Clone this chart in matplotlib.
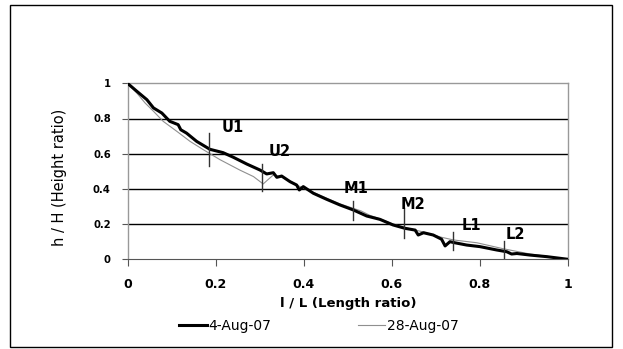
import matplotlib
matplotlib.use("Agg")
import matplotlib.pyplot as plt
from matplotlib.patches import Rectangle

plt.rcParams['font.family'] = ['DejaVu Sans']

# 4-Aug-07 (thick)
aug4_x = [0, 0.021, 0.044, 0.059, 0.078, 0.096, 0.115, 0.121, 0.134, 0.157, 0.187, 0.217,
          0.24, 0.271, 0.301, 0.316, 0.331, 0.339, 0.35, 0.369, 0.384, 0.39, 0.399, 0.422,
          0.452, 0.482, 0.513, 0.543, 0.573, 0.603, 0.63, 0.653, 0.66, 0.672, 0.694, 0.713,
          0.721, 0.732, 0.743, 0.77, 0.80, 0.838, 0.861, 0.872, 0.884, 0.914, 0.952, 1.0]
aug4_y = [1.0, 0.955, 0.907, 0.86, 0.831, 0.784, 0.765, 0.736, 0.717, 0.67, 0.625, 0.606,
          0.58, 0.541, 0.507, 0.485, 0.492, 0.466, 0.473, 0.441, 0.422, 0.394, 0.413, 0.375,
          0.341, 0.309, 0.28, 0.246, 0.227, 0.195, 0.176, 0.166, 0.138, 0.151, 0.138, 0.114,
          0.076, 0.1, 0.094, 0.081, 0.072, 0.053, 0.043, 0.03, 0.033, 0.024, 0.015, 0.0]

# 28-Aug-07 (thin)
aug28_x = [0, 0.021, 0.04, 0.059, 0.081, 0.112, 0.142, 0.172, 0.21, 0.255, 0.286, 0.308,
           0.32, 0.331, 0.35, 0.369, 0.39, 0.422, 0.482, 0.53, 0.55, 0.573, 0.603, 0.63,
           0.672, 0.713, 0.74, 0.793, 0.853, 0.914, 0.952, 1.0]
aug28_y = [1.0, 0.945, 0.888, 0.841, 0.784, 0.727, 0.67, 0.623, 0.566, 0.507, 0.47, 0.428,
           0.455, 0.479, 0.468, 0.445, 0.415, 0.38, 0.315, 0.275, 0.25, 0.23, 0.2, 0.18,
           0.155, 0.125, 0.11, 0.094, 0.06, 0.03, 0.017, 0.0]

# section markers
mark_labels = ['U1', 'U2', 'M1', 'M2', 'L1', 'L2']
mark_x = [0.186, 0.306, 0.513, 0.628, 0.74, 0.855]
mark_ylo = [0.53, 0.39, 0.223, 0.122, 0.051, 0.0]
mark_yhi = [0.716, 0.54, 0.333, 0.29, 0.156, 0.103]
label_x = [0.239, 0.346, 0.52, 0.647, 0.781, 0.88]
label_y = [0.75, 0.61, 0.40, 0.312, 0.19, 0.143]

x_ticks = [0, 0.2, 0.4, 0.6, 0.8, 1]
x_ticklabels = ['0', '0.2', '0.4', '0.6', '0.8', '1']
y_ticks = [0, 0.2, 0.4, 0.6, 0.8, 1]
y_ticklabels = ['0', '0.2', '0.4', '0.6', '0.8', '1']

W, H = 623, 349
fig = plt.figure(figsize=(W / 100, H / 100), dpi=100)
fig.patch.set_facecolor('white')
fig.add_artist(Rectangle((9.5 / W, 1 - 346.5 / H), (612 - 9.5) / W, (346.5 - 5) / H,
                         transform=fig.transFigure, fill=False, edgecolor='black', lw=1.0))

ax = fig.add_axes([127.5 / W, 1 - 259.3 / H, (568 - 127.5) / W, (259.3 - 83.3) / H])
ax.set_xlim(0, 1)
ax.set_ylim(0, 1)

for v in y_ticks[1:-1]:
    ax.axhline(v, color='black', lw=1.0, zorder=1)

ax.plot(aug28_x, aug28_y, color='#8f8f8f', lw=0.8, zorder=3, label='28-Aug-07')
ax.plot(aug4_x, aug4_y, color='black', lw=2.2, zorder=4, label='4-Aug-07')

for lx, lo, hi in zip(mark_x, mark_ylo, mark_yhi):
    ax.plot([lx, lx], [lo, hi], color='#333333', lw=1.0, zorder=5)
for t, tx, ty in zip(mark_labels, label_x, label_y):
    ax.text(tx, ty, t, ha='center', va='center', fontsize=10.5, fontweight='bold', zorder=6)

for side in ['top', 'right', 'left']:
    ax.spines[side].set_color('#999999')
    ax.spines[side].set_linewidth(1.0)
ax.spines['bottom'].set_color('#555555')

ax.set_xticks(x_ticks)
ax.set_xticklabels(x_ticklabels, fontsize=9, fontweight='bold')
ax.set_yticks(y_ticks)
ax.set_yticklabels(y_ticklabels, fontsize=7.2, fontweight='bold')
ax.tick_params(axis='x', direction='out', length=5, width=0.8, color='#555555', pad=8.5)
ax.tick_params(axis='y', direction='out', length=4, width=0.8, color='#555555', pad=8)

ax.set_xlabel('l / L (Length ratio)', fontsize=9.5, fontweight='bold')
ax.xaxis.set_label_coords(0.5, -0.214)
ax.set_ylabel('h / H (Height ratio)', fontsize=10.5)
ax.yaxis.set_label_coords(-0.137, 0.465)

h, l = ax.get_legend_handles_labels()
leg = fig.legend([h[1], h[0]], [l[1], l[0]], loc='center', ncol=2,
                 bbox_to_anchor=(319 / W, 1 - 326 / H), frameon=False, fontsize=10,
                 handlelength=2.0, handletextpad=0.1, columnspacing=6.2)

fig.savefig('out.png', dpi=100)
